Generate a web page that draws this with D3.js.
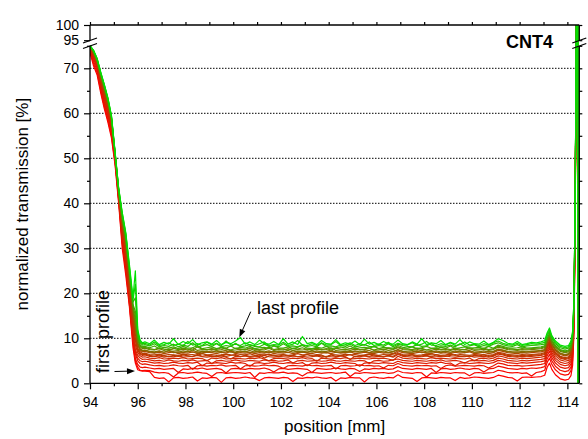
<!DOCTYPE html>
<html>
<head>
<meta charset="utf-8">
<script src="https://cdn.jsdelivr.net/npm/d3@7"></script>
<style>
  body { margin: 0; background: #fff; }
  svg { display: block; }
  text { font-family: "Liberation Sans", Arial, sans-serif; fill: #000; }
</style>
</head>
<body>
<svg id="chart" width="588" height="439"></svg>
<script>
// x grid of the scans (mm): steep left edge, flat middle, right edge
const xLeft = [94.0, 94.15, 94.3, 94.45, 94.6, 94.75, 94.9, 95.05, 95.2, 95.35, 95.5, 95.65, 95.8, 95.9, 96.0, 96.1, 96.2];
const xMid = [96.3, 96.5, 96.7, 96.9, 97.1, 97.3, 97.5, 97.7, 97.9, 98.1, 98.3, 98.5, 98.7, 98.9,
  99.1, 99.3, 99.5, 99.7, 99.9, 100.1, 100.3, 100.5, 100.7, 100.9, 101.1, 101.3, 101.5, 101.7,
  101.9, 102.1, 102.3, 102.5, 102.7, 102.9, 103.1, 103.3, 103.5, 103.7, 103.9, 104.1, 104.3, 104.5,
  104.7, 104.9, 105.1, 105.3, 105.5, 105.7, 105.9, 106.1, 106.3, 106.5, 106.7, 106.9, 107.1, 107.3,
  107.5, 107.7, 107.9, 108.1, 108.3, 108.5, 108.7, 108.9, 109.1, 109.3, 109.5, 109.7, 109.9, 110.1,
  110.3, 110.5, 110.7, 110.9, 111.1, 111.3, 111.5, 111.7, 111.9, 112.1, 112.3, 112.5, 112.7, 112.9];
const xRight = [113.05, 113.15, 113.25, 113.35, 113.5, 113.7, 113.9, 114.05, 114.15, 114.22, 114.28, 114.33, 114.38, 114.44, 114.45, 114.48];

// transmission (%) per profile, first (red) to last (green)
const leftValues = [
  [73.5,70.5,68.5,64.5,61,58,54.5,48.5,40,30,24,17,8,4.5,3,2.8,2.7],
  [73.8,71,69,65,61.5,58.5,55,49,40.5,31,25,17.5,9,5,3.6,2.9,2.8],
  [74,71.5,69.5,65.5,62,59,55.5,49.5,41,31.5,25.5,18,9.5,5.5,4.2,3.6,3.5],
  [74.2,72,70,66,62.5,59.5,56,49.5,41,32,26,18.5,10,6.5,5,4.4,4.2],
  [74.4,72.3,70.3,66.4,63,60,56.4,50,41.5,32.5,26.5,19,10.5,7,5.6,5,4.8],
  [74.5,72.6,70.6,66.8,63.4,60.5,56.8,50,41.5,33,27.5,19.5,11.5,7.5,6.2,5.6,5.3],
  [74.6,72.8,70.8,67.1,63.8,61,57.2,50.3,42,34,28.5,20,12.5,8.5,6.8,6.1,5.8],
  [74.7,73,71,67.4,64.2,61.4,57.6,50.5,42,34.5,29.5,21,13.5,9.5,7.3,6.5,6.2],
  [74.75,73.1,71.1,67.5,64.4,61.6,57.8,50.5,42.1,34.8,29.8,21.5,14,10,7.5,6.7,6.4],
  [74.8,73.2,71.2,67.7,64.6,61.8,58,50.6,42.3,35,30,22,14.5,11,7.8,7,6.6],
  [74.8,73.4,71.4,68,65,62.2,58.3,50.8,42.5,35.5,31,23,15.5,12,8.5,7.3,7.0],
  [74.85,73.45,71.5,68.2,65.2,62.4,58.5,50.85,42.55,35.8,31.2,23.5,16,12.5,8.8,7.5,7.2],
  [74.9,73.5,71.6,68.3,65.4,62.5,58.6,50.9,42.6,36,31.5,24,16.5,13,9,7.7,7.3],
  [74.9,73.7,71.7,68.5,65.7,62.8,58.8,51,42.8,36.5,32,24.5,17,14,9.5,8.1,7.7],
  [74.95,73.75,71.75,68.6,65.85,62.9,58.9,51.1,42.9,36.8,32.2,24.8,17.2,15,10,8.3,7.9],
  [75,73.8,71.8,68.7,66,63,59,51.2,43,37,32.5,25,17.5,16,10.5,8.5,8.1],
  [75.2,73.9,72,68.9,66.2,63.2,59.2,51.3,43.2,37.5,33,25.5,18,19,11,9,8.5],
  [75.3,73.95,72.1,69,66.3,63.3,59.3,51.4,43.3,37.8,33.2,26,18.5,22,11.5,9.3,8.8],
  [75.4,74,72.2,69.2,66.4,63.5,59.5,51.5,43.5,38,33.5,26.5,19,25,12,9.6,9.0]
];

const midValues = [
  [2.7,2.6,1.3,1.1,1.2,0.3,1.2, 1.3,1.1,1.2,1.4,0.5,1.2,1.1, 1.3,1.2,0.2,1.2,1.3,1.1,1.2, 1.4,1.2,1.1,0.6,1.2,1.3,1.2,
   1.1,1.3,1.2,0.4,1.2,1.1,1.3, 1.2,1.4,1.2,1.1,1.3,0.5,1.2, 1.1,1.3,1.2,1.2,0.3,1.2,1.4, 1.2,1.1,1.3,1.2,1.9,1.3,1.2,
   1.1,0.4,1.2,1.3,1.2,1.1,1.3, 1.2,1.2,0.6,1.3,1.1,1.2,1.4, 1.3,1.2,1.1,1.3,1.8,1.6,1.3, 1.2,0.5,1.3,1.4,1.3,1.4,1.5],
  [2.9,2.8,2.5,2.3,2.4,2.2,1.4, 2.3,2.4,2.2,2.3,2.5,2.3,2.2, 1.5,2.3,2.4,2.2,2.3,2.4,2.3, 2.2,2.4,1.3,2.3,2.2,2.4,2.3,
   2.3,2.5,2.2,2.3,2.2,1.6,2.3, 2.4,2.3,2.2,2.3,2.4,2.2,2.3, 2.5,1.5,2.3,2.2,2.4,2.3,2.2, 2.3,2.4,2.2,2.3,2.8,2.4,2.3,
   2.2,2.4,2.3,1.4,2.3,2.2,2.4, 2.3,2.2,2.4,2.3,2.3,1.7,2.3, 2.4,2.2,2.3,2.4,2.9,2.7,2.4, 2.3,2.4,2.2,2.3,1.6,2.4,2.6],
  [3.6,3.4,3.2,3.3,3.1,3.2,3.3, 2.4,3.2,3.1,3.3,3.2,3.4,3.1, 3.2,3.3,3.1,2.3,3.2,3.3,3.2, 3.1,3.3,3.2,3.2,3.4,3.1,2.5,
   3.2,3.3,3.1,3.2,3.3,3.2,3.1, 2.4,3.3,3.2,3.1,3.2,3.4,3.2, 3.1,3.3,3.2,2.6,3.2,3.1,3.3, 3.2,3.3,3.1,3.2,3.7,3.3,3.2,
   3.1,3.3,3.2,3.1,3.3,2.4,3.2, 3.3,3.1,3.2,3.4,3.2,3.1,3.3, 3.2,2.5,3.2,3.3,3.8,3.6,3.3, 3.2,3.1,3.3,3.2,3.4,3.3,3.5],
  [4.3,4.1,3.9,4.0,3.8,3.9,4.1, 3.9,3.8,4.0,3.1,3.9,4.0,3.8, 4.0,3.9,4.1,3.8,3.9,4.0,3.2, 3.9,4.0,3.8,3.9,4.1,3.9,4.0,
   3.8,3.3,3.9,4.0,3.9,3.8,4.1, 3.9,4.0,3.8,3.9,4.0,3.2,3.9, 4.0,3.8,3.9,4.1,3.9,4.0,3.8, 3.9,3.4,4.0,3.9,4.4,4.0,3.9,
   3.8,4.0,3.9,4.0,3.8,3.9,3.3, 3.9,4.1,3.8,3.9,4.0,3.9,3.8, 4.0,3.9,3.4,3.9,4.5,4.3,4.0, 3.9,4.0,3.8,3.9,4.0,4.1,4.2],
  [4.9,4.7,4.5,4.6,4.4,4.5,4.7, 4.5,4.4,4.6,4.5,4.7,3.9,4.5, 4.4,4.6,4.5,4.4,4.7,4.5,4.6, 4.4,3.8,4.5,4.6,4.4,4.5,4.7,
   4.5,4.4,4.6,4.5,4.4,4.6,3.9, 4.5,4.6,4.4,4.5,4.7,4.5,4.4, 4.6,4.5,4.4,3.8,4.5,4.6,4.5, 4.4,4.6,4.5,4.4,4.9,4.6,4.5,
   4.4,4.6,4.5,4.4,4.6,4.5,4.7, 4.4,4.5,3.9,4.5,4.6,4.4,4.5, 4.6,4.5,4.4,4.6,5.1,4.9,4.6, 4.5,4.4,4.6,4.5,4.6,4.7,4.8],
  [5.4,5.2,5.0,5.1,4.9,5.2,5.0, 4.9,5.1,5.0,5.2,4.9,5.0,5.1, 4.4,5.0,5.1,4.9,5.0,5.2,5.0, 4.9,5.1,5.0,4.9,5.2,5.0,5.1,
   4.9,5.0,5.2,4.5,5.0,5.1,4.9, 5.0,5.1,4.9,5.0,5.2,5.0,4.9, 5.1,5.0,4.9,5.1,5.0,4.4,5.0, 5.1,4.9,5.0,5.2,5.4,5.1,5.0,
   4.9,5.1,5.0,4.9,5.1,5.0,5.2, 4.9,5.0,5.1,4.9,4.5,5.0,5.1, 5.0,5.1,4.9,5.1,5.6,5.4,5.1, 5.0,4.9,5.1,5.0,5.1,5.2,5.3],
  [5.9,5.6,5.5,5.7,5.4,5.5,5.6, 5.5,5.7,5.4,5.5,5.6,5.5,5.0, 5.6,5.5,5.7,5.4,5.5,5.6,5.5, 5.4,5.6,5.5,5.7,5.4,5.0,5.5,
   5.6,5.5,5.4,5.6,5.5,5.7,5.4, 5.5,4.9,5.6,5.5,5.4,5.6,5.5, 5.7,5.4,5.5,5.6,5.5,5.4,5.6, 5.5,5.6,5.4,5.1,6.0,5.6,5.5,
   5.4,5.6,5.5,5.4,5.7,5.5,5.6, 5.5,5.4,5.6,5.5,5.4,5.6,5.0, 5.5,5.6,5.4,5.6,6.1,5.9,5.6, 5.5,5.4,5.6,5.5,5.6,5.7,5.8],
  [6.3,6.0,5.9,6.1,5.8,6.0,5.9, 6.1,5.8,5.9,6.0,6.2,5.9,5.8, 6.0,5.9,6.1,5.8,5.4,6.0,5.9, 6.1,5.8,5.9,6.0,6.2,5.9,5.8,
   6.0,5.9,5.8,6.1,5.9,6.0,5.8, 5.9,6.1,5.8,6.0,5.9,5.8,6.1, 5.9,5.3,6.0,5.9,6.1,5.8,5.9, 6.0,5.9,6.1,5.8,6.4,6.0,5.9,
   5.8,6.0,5.9,6.1,5.8,5.9,6.0, 6.1,5.9,5.8,6.0,5.9,6.1,5.8, 5.9,6.0,5.8,6.0,6.5,6.3,6.0, 5.9,5.8,6.0,5.9,6.0,6.1,6.2],
  [6.5,6.2,6.0,6.3,6.1,5.9,6.2, 6.0,6.3,6.1,5.9,6.4,6.0,6.2, 6.1,5.9,6.3,6.0,6.2,6.4,5.9, 6.2,6.0,6.1,6.3,5.6,6.1,6.2,
   6.0,6.3,6.1,6.2,5.9,6.1,6.4, 6.0,6.2,6.1,5.9,6.3,6.0,6.2, 6.1,6.4,5.9,6.1,6.2,6.0,6.3, 6.1,5.9,6.2,6.0,6.6,6.2,6.1,
   6.3,6.0,6.1,6.2,5.9,6.3,6.1, 6.0,6.2,6.4,6.0,6.1,5.9,6.2, 6.1,6.3,6.0,6.2,6.7,6.5,6.2, 6.1,6.0,6.2,6.1,6.2,6.3,6.4],
  [6.7,6.4,6.3,6.5,6.2,6.4,6.3, 6.2,6.5,6.3,6.4,6.2,6.6,6.3, 6.4,6.2,6.3,6.5,6.3,6.2,6.4, 6.3,6.6,6.2,6.4,6.3,6.5,6.2,
   6.3,6.4,6.2,6.3,6.6,6.3,6.4, 6.2,6.4,6.3,5.8,6.4,6.3,6.2, 6.5,6.3,6.4,6.2,6.3,6.5,6.3, 6.2,6.4,6.3,6.5,6.8,6.4,6.3,
   6.4,6.2,6.3,6.5,6.3,6.4,6.2, 6.3,6.5,6.2,6.4,6.3,6.2,6.4, 6.3,6.4,6.2,6.4,6.9,6.7,6.4, 6.3,6.2,6.4,6.3,6.4,6.5,6.6],
  [7.1,6.8,6.7,6.9,6.6,6.8,7.0, 6.6,6.8,6.7,7.0,6.6,6.7,6.9, 6.8,6.6,6.9,6.7,7.1,6.6,6.8, 6.7,6.9,6.6,6.8,6.7,7.0,6.6,
   6.8,6.7,6.9,6.6,6.8,7.0,6.7, 6.6,6.9,6.7,6.8,6.6,6.9,6.7, 6.8,7.0,6.6,6.7,6.9,6.7,6.6, 6.9,6.7,6.8,6.6,7.2,6.8,6.7,
   6.6,6.8,7.0,6.7,6.6,6.9,6.7, 6.8,6.6,6.9,6.7,6.8,7.0,6.6, 6.7,6.9,6.6,6.8,7.3,7.1,6.8, 6.7,6.6,6.8,6.7,6.8,6.9,7.0],
  [7.3,7.0,6.8,7.1,6.9,7.2,6.8, 7.0,6.8,7.2,6.9,7.0,6.7,7.1, 6.9,7.2,6.8,7.0,7.3,6.8,7.0, 7.1,6.8,7.0,7.2,6.9,6.8,7.1,
   6.9,7.1,6.8,7.3,6.9,7.0,6.8, 7.2,6.9,7.0,6.8,7.1,7.0,6.9, 6.8,7.1,7.0,6.9,7.2,6.8,7.0, 7.1,6.9,6.8,7.0,7.4,7.1,6.9,
   7.0,7.2,6.8,6.9,7.1,7.0,6.8, 7.1,6.9,7.0,7.2,6.8,7.1,6.9, 7.0,6.8,7.1,6.9,7.5,7.3,7.0, 6.9,7.0,6.8,7.0,7.1,7.1,7.2],
  [7.4,7.1,7.0,7.2,6.9,7.3,7.0, 6.9,7.2,7.0,7.4,6.9,7.1,7.0, 7.2,6.9,7.1,7.3,6.9,7.0,7.2, 7.0,7.3,6.9,7.1,7.0,7.2,6.9,
   7.1,7.0,7.3,6.9,7.1,7.0,7.2, 6.9,7.2,7.0,7.1,7.4,6.9,7.0, 7.1,6.9,7.2,7.0,7.1,7.3,6.9, 7.0,7.2,6.9,7.1,7.5,7.1,7.0,
   6.9,7.1,7.3,7.0,6.9,7.2,7.0, 7.1,6.9,7.2,7.0,7.1,7.3,6.9, 7.0,7.2,6.9,7.1,7.6,7.4,7.1, 7.0,6.9,7.1,7.0,7.1,7.2,7.3],
  [7.8,7.5,7.4,7.7,7.3,7.6,7.4, 7.3,7.6,7.4,7.9,7.3,7.5,7.4, 7.6,7.3,7.5,7.8,7.3,7.4,7.6, 7.4,7.7,7.3,7.5,7.4,7.8,7.3,
   7.5,7.4,7.7,7.3,7.5,7.4,7.6, 7.3,7.6,7.4,7.5,7.9,7.3,7.4, 7.5,7.3,7.6,7.4,7.5,7.8,7.3, 7.4,7.6,7.3,7.5,7.9,7.5,7.4,
   7.3,7.5,7.8,7.4,7.3,7.6,7.4, 7.5,7.3,7.6,7.4,7.5,7.7,7.3, 7.4,7.6,7.3,7.5,8.0,7.8,7.5, 7.4,7.3,7.5,7.4,7.5,7.6,7.7],
  [8.0,7.7,7.5,7.9,7.6,7.4,7.8, 7.5,7.8,7.6,7.4,8.1,7.6,7.5, 7.7,7.5,7.9,7.6,7.4,7.8,7.6, 7.5,7.9,7.6,7.5,7.7,8.0,7.5,
   7.7,7.6,7.4,7.8,7.6,7.9,7.5, 7.6,7.8,7.5,7.7,7.4,7.8,7.6, 7.5,7.7,7.9,7.5,7.6,7.8,7.4, 7.7,7.5,7.8,7.6,8.1,7.7,7.6,
   7.5,7.8,7.6,7.4,7.7,7.9,7.5, 7.7,7.5,7.8,7.6,7.5,7.9,7.6, 7.6,7.8,7.5,7.7,8.2,8.0,7.7, 7.6,7.5,7.7,7.6,7.7,7.8,7.9],
  [8.2,7.9,8.3,7.7,8.0,7.8,8.1, 7.7,8.2,7.8,7.9,8.4,7.7,7.9, 8.1,7.7,8.0,7.8,8.3,7.7,8.0, 7.8,8.2,7.7,7.9,8.0,7.7,8.3,
   7.9,7.8,8.1,7.7,8.0,8.4,7.8, 7.7,8.0,7.8,8.2,7.7,7.9,8.1, 7.8,8.3,7.7,7.9,8.0,7.8,8.2, 7.7,8.0,7.9,7.8,8.4,8.0,7.8,
   8.1,7.7,7.9,8.2,7.8,7.7,8.0, 7.8,8.3,7.7,7.9,8.1,7.8,7.9, 8.0,7.7,8.2,7.8,8.5,8.2,7.9, 7.8,7.9,8.1,7.8,7.9,8.0,8.1],
  [8.6,8.3,8.8,8.1,8.4,8.2,8.7, 8.1,8.5,8.2,9.0,8.1,8.3,8.6, 8.2,8.8,8.1,8.4,8.2,8.9,8.1, 8.3,8.6,8.2,8.1,8.7,8.2,8.4,
   8.1,8.8,8.2,8.3,8.1,8.6,8.2, 8.4,8.1,8.9,8.2,8.3,8.1,8.5, 8.2,8.7,8.1,8.3,8.6,8.2,8.1, 8.4,8.2,8.8,8.1,8.7,8.4,8.2,
   8.1,8.6,8.2,8.3,8.9,8.1,8.3, 8.2,8.5,8.1,8.8,8.2,8.3,8.6, 8.1,8.4,8.2,8.7,9.0,8.6,8.3, 8.2,8.6,8.1,8.3,8.4,8.5,8.6],
  [8.9,8.5,9.2,8.4,8.6,9.0,8.4, 8.7,8.4,9.3,8.5,8.8,8.4,9.1, 8.5,8.9,8.4,9.4,8.5,8.7,8.4, 9.0,8.5,8.4,8.8,9.2,8.4,8.6,
   8.5,9.1,8.4,8.7,9.5,8.5,8.4, 8.8,8.4,9.0,8.5,8.6,9.3,8.4, 8.6,9.0,8.4,8.8,8.5,9.2,8.4, 8.7,8.5,9.1,8.4,8.9,8.6,8.5,
   9.0,8.4,8.7,9.3,8.5,8.4,8.8, 8.5,9.0,8.4,8.6,9.2,8.5,8.7, 8.4,8.8,8.5,9.0,9.4,8.9,8.6, 8.5,8.9,8.4,8.6,8.8,8.7,8.9],
  [9.2,8.8,9.6,8.6,9.1,8.7,9.9, 8.6,9.3,8.8,9.7,8.6,9.0,9.2, 8.7,9.5,8.6,9.1,8.8,9.4,10.2, 8.7,9.2,8.6,9.6,8.8,8.7,9.3,
   8.6,9.9,8.7,9.2,8.6,10.4,8.8, 9.1,8.6,9.5,8.8,8.7,9.7,8.6, 9.0,8.7,9.4,8.6,9.8,8.7,9.1, 8.6,9.3,8.8,8.7,9.6,8.8,8.6,
   9.2,8.7,9.9,8.6,9.0,8.8,9.5, 8.6,9.1,8.7,9.7,8.6,9.2,8.8, 8.7,9.4,8.6,9.1,9.9,9.5,8.9, 8.7,9.3,8.6,8.8,9.1,9.0,9.2]
];

const rightValues = [
  [1.8,3.5,4.5,3.1,1.9,1.0,0.7,0.9,1.7,4,11.5,36.5,106,106,106,0],
  [2.9,4.6,5.6,4.2,3.0,2.1,1.8,2.0,2.8,5.1,12.6,37.6,106,106,106,0],
  [3.7,5.4,6.4,5.0,3.8,2.9,2.6,2.8,3.6,5.9,13.4,38.4,106,106,106,0],
  [4.4,6.1,7.1,5.7,4.5,3.6,3.3,3.5,4.3,6.6,14.1,39.1,106,106,106,0],
  [5.0,6.7,7.7,6.3,5.1,4.2,3.9,4.1,4.9,7.2,14.7,39.7,106,106,106,0],
  [5.5,7.2,8.2,6.8,5.6,4.7,4.4,4.6,5.4,7.7,15.2,40.2,106,106,106,0],
  [6.0,7.7,8.7,7.3,6.1,5.2,4.9,5.1,5.9,8.2,15.7,40.7,106,106,106,0],
  [6.4,8.1,9.1,7.7,6.5,5.6,5.3,5.5,6.3,8.6,16.1,41.1,106,106,106,0],
  [6.6,8.3,9.3,7.9,6.7,5.8,5.5,5.7,6.5,8.8,16.3,41.3,106,106,106,0],
  [6.8,8.5,9.5,8.1,6.9,6.0,5.7,5.9,6.7,9.0,16.5,41.5,106,106,0,0],
  [7.2,8.9,9.9,8.5,7.3,6.4,6.1,6.3,7.1,9.4,16.9,41.9,106,106,0,0],
  [7.4,9.1,10.1,8.7,7.5,6.6,6.3,6.5,7.3,9.6,17.1,42.1,106,106,0,0],
  [7.5,9.2,10.2,8.8,7.6,6.7,6.4,6.6,7.4,9.7,17.2,42.2,106,106,0,0],
  [7.9,9.6,10.6,9.2,8.0,7.1,6.8,7.0,7.8,10.1,17.6,42.6,106,106,0,0],
  [8.1,9.8,10.8,9.4,8.2,7.3,7.0,7.2,8.0,10.3,17.8,42.8,106,106,0,0],
  [8.3,10.0,11.0,9.6,8.4,7.5,7.2,7.4,8.2,10.5,18,43,106,106,0,0],
  [8.7,10.4,11.4,10.0,8.8,7.9,7.6,7.8,8.6,10.9,18.4,43.4,106,106,0,0],
  [9.1,10.8,11.8,10.3,9.1,8.2,7.9,8.1,9.0,11.2,18.7,43.7,106,106,0,0],
  [9.5,11.2,12.3,10.6,9.4,8.5,8.2,8.4,9.4,11.6,19,44,106,106,0,0]
];

const xMajorTicks = [94, 96, 98, 100, 102, 104, 106, 108, 110, 112, 114];
const xMinorTicks = [95, 97, 99, 101, 103, 105, 107, 109, 111, 113];
const yMajorTicks = [0, 10, 20, 30, 40, 50, 60, 70, 95, 100];
const yMinorTicks = [5, 15, 25, 35, 45, 55, 65, 75];
const yGrid = [10, 20, 30, 40, 50, 60, 70];

const svg = d3.select("#chart");
const L = 90, R = 579.3, T = 25, B = 383.3;
const brkLow = 46, brkHigh = 40.5; // gap in the y axis

const x = d3.scaleLinear().domain([94, 114.5]).range([L, R]);
// broken axis: 0..75 below the break, 95..100 above it
const y = d3.scaleLinear().domain([0, 75, 95, 100]).range([B, 45.8, 40.2, T]);

svg.append("defs").append("clipPath").attr("id", "plot")
  .append("rect").attr("x", L).attr("y", T).attr("width", R - L).attr("height", B - T);

// dotted grid
svg.append("g").selectAll("line").data(yGrid).join("line")
  .attr("x1", L).attr("x2", R).attr("y1", d => y(d)).attr("y2", d => y(d))
  .attr("stroke", "#000").attr("stroke-width", 1).attr("stroke-dasharray", "1.5,1.5");

// profiles
const profiles = leftValues.map((lv, i) => [
  ...xLeft.map((xv, j) => [xv, lv[j]]),
  ...xMid.map((xv, j) => [xv, midValues[i][j]]),
  ...xRight.map((xv, j) => [xv, rightValues[i][j]])
]);
const colour = d3.scaleLinear().domain([0, 0.55, 1])
  .range(["#ff0000", "#b04400", "#00e000"]).interpolate(d3.interpolateRgb);
const line = d3.line().defined(d => d[1] != null).x(d => x(d[0])).y(d => y(d[1]));

svg.append("g").attr("clip-path", "url(#plot)")
  .selectAll("path").data(profiles).join("path")
  .attr("d", line)
  .attr("fill", "none")
  .attr("stroke", (d, i) => colour(i / (profiles.length - 1)))
  .attr("stroke-width", 1.2)
  .attr("stroke-linejoin", "round");

// axes
const noDomain = g => g.select(".domain").remove();
const axisStyle = g => g.selectAll("line").attr("stroke", "#000").attr("stroke-width", 1.2);

svg.append("g").attr("transform", `translate(0,${B})`)
  .call(d3.axisBottom(x).tickValues(xMajorTicks).tickSize(6).tickPadding(8).tickFormat(d3.format("d")))
  .call(noDomain).call(axisStyle)
  .selectAll("text").attr("font-size", 14);
svg.append("g").attr("transform", `translate(0,${B})`)
  .call(d3.axisBottom(x).tickValues(xMinorTicks).tickSize(3).tickFormat(""))
  .call(noDomain).call(axisStyle);

svg.append("g").attr("transform", `translate(0,${T})`)
  .call(d3.axisTop(x).tickValues(xMajorTicks.concat(xMinorTicks)).tickSize(3).tickFormat(""))
  .call(noDomain).call(axisStyle);

svg.append("g").attr("transform", `translate(${L},0)`)
  .call(d3.axisLeft(y).tickValues(yMajorTicks).tickSize(6).tickPadding(5).tickFormat(d3.format("d")))
  .call(noDomain).call(axisStyle)
  .selectAll("text").attr("font-size", 14);
svg.append("g").attr("transform", `translate(${L},0)`)
  .call(d3.axisLeft(y).tickValues(yMinorTicks).tickSize(3).tickFormat(""))
  .call(noDomain).call(axisStyle);

svg.append("g").attr("transform", `translate(${R},0)`)
  .call(d3.axisRight(y).tickValues(yMajorTicks.concat(yMinorTicks)).tickSize(3).tickFormat(""))
  .call(noDomain).call(axisStyle);

// frame, with gaps at the break
const frame = svg.append("g").attr("stroke", "#000").attr("stroke-width", 1.3);
frame.append("line").attr("x1", L).attr("x2", R).attr("y1", B).attr("y2", B);
frame.append("line").attr("x1", L).attr("x2", R).attr("y1", T).attr("y2", T);
[L, R].forEach(xx => {
  frame.append("line").attr("x1", xx).attr("x2", xx).attr("y1", T).attr("y2", brkHigh);
  frame.append("line").attr("x1", xx).attr("x2", xx).attr("y1", brkLow).attr("y2", B);
  frame.append("line").attr("x1", xx - 7).attr("x2", xx + 7).attr("y1", brkHigh + 2.5).attr("y2", brkHigh - 2.5);
  frame.append("line").attr("x1", xx - 7).attr("x2", xx + 7).attr("y1", brkLow + 2.5).attr("y2", brkLow - 2.5);
});

// labels
svg.append("text").attr("x", (L + R) / 2).attr("y", 432).attr("text-anchor", "middle")
  .attr("font-size", 17).text("position [mm]");
svg.append("text").attr("transform", `translate(28,${(T + B) / 2}) rotate(-90)`).attr("text-anchor", "middle")
  .attr("font-size", 17).text("normalized transmission [%]");
svg.append("text").attr("x", 553).attr("y", 48).attr("text-anchor", "end")
  .attr("font-size", 18).attr("font-weight", "bold").text("CNT4");

svg.append("text").attr("x", 257).attr("y", 314).attr("font-size", 18).text("last profile");
svg.append("text").attr("transform", "translate(109,373) rotate(-90)").attr("font-size", 18).text("first profile");

// arrows
const arrow = (x1, y1, x2, y2) => {
  const a = Math.atan2(y2 - y1, x2 - x1), len = 8, w = 3;
  svg.append("line").attr("x1", x1).attr("y1", y1)
    .attr("x2", x2 - Math.cos(a) * len * 0.8).attr("y2", y2 - Math.sin(a) * len * 0.8)
    .attr("stroke", "#000").attr("stroke-width", 1);
  const bx = x2 - Math.cos(a) * len, by = y2 - Math.sin(a) * len;
  svg.append("path")
    .attr("d", `M${x2},${y2}L${bx - Math.sin(a) * w},${by + Math.cos(a) * w}L${bx + Math.sin(a) * w},${by - Math.cos(a) * w}Z`)
    .attr("fill", "#000");
};
arrow(114.5, 371.5, 135, 371);
arrow(250.7, 311.7, 239.3, 337.3);
</script>
</body>
</html>
